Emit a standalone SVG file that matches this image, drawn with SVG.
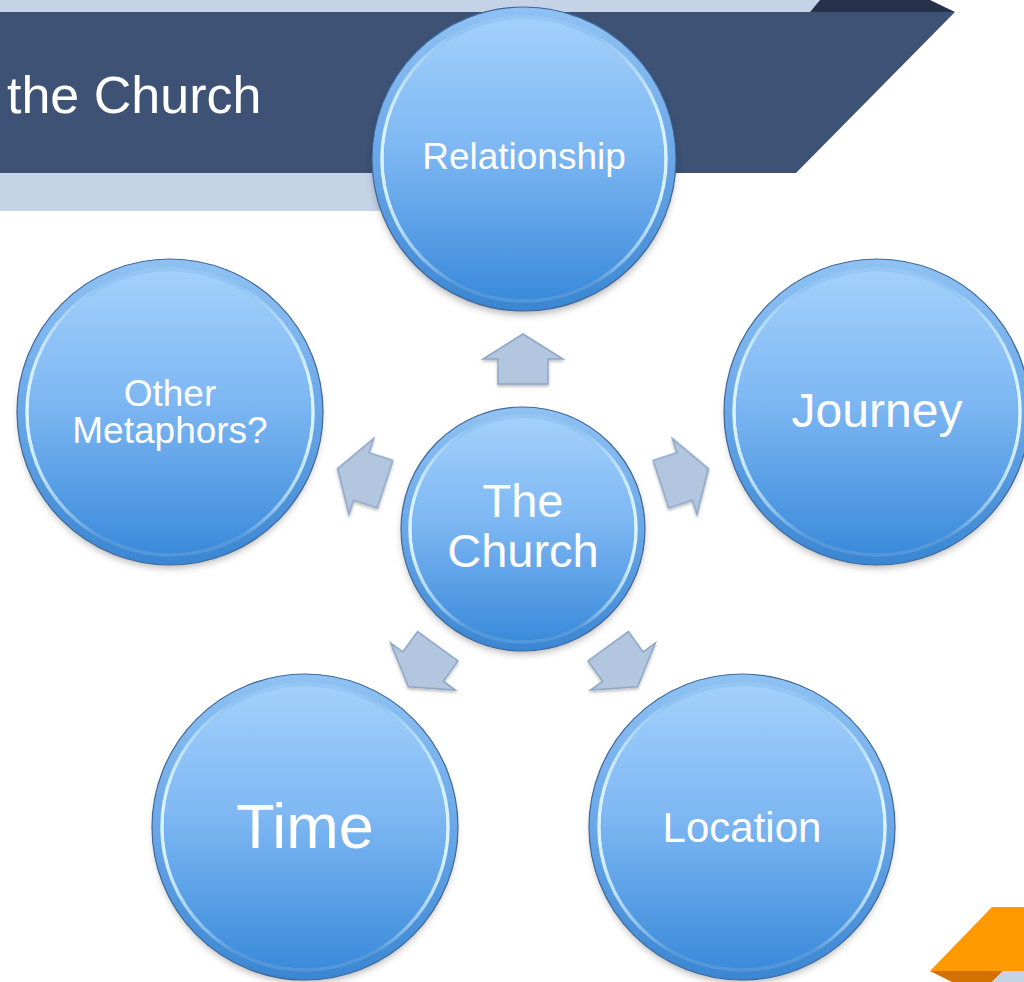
<svg xmlns="http://www.w3.org/2000/svg" xmlns:xlink="http://www.w3.org/1999/xlink" width="1024" height="982" viewBox="0 0 1024 982">
<style>
.lbl{fill:#ffffff;font-family:"Liberation Sans",Arial,sans-serif;text-anchor:middle}
.shadow{fill:#000;opacity:0.35;filter:url(#blur)}
.outer{fill:url(#gOuter);stroke:#40689a;stroke-width:1.2}
.rim{fill:none;stroke:url(#gRim);stroke-width:3.5}
.inner{fill:url(#gInner)}
.arrow{fill:#b3c6e0;stroke:#8ea7c7;stroke-width:1.5;stroke-linejoin:miter}
</style>
<defs>
<filter id="blur" x="-20%" y="-20%" width="140%" height="140%"><feGaussianBlur stdDeviation="4"/></filter>
<filter id="ashadow" x="-30%" y="-30%" width="160%" height="160%"><feDropShadow dx="0" dy="2" stdDeviation="1.5" flood-color="#000" flood-opacity="0.25"/></filter>
<linearGradient id="gOuter" x1="0" y1="0" x2="0" y2="1">
<stop offset="0" stop-color="#8fc2f3"/>
<stop offset="0.5" stop-color="#6aa7e8"/>
<stop offset="1" stop-color="#3a86d2"/>
</linearGradient>
<linearGradient id="gInner" x1="0" y1="0" x2="0" y2="1">
<stop offset="0" stop-color="#a2d0fb"/>
<stop offset="0.45" stop-color="#7fb8f3"/>
<stop offset="1" stop-color="#3b8bdb"/>
</linearGradient>
<linearGradient id="gRim" x1="0" y1="0" x2="1" y2="0">
<stop offset="0" stop-color="#dff8ff" stop-opacity="0.95"/>
<stop offset="0.25" stop-color="#c8ecff" stop-opacity="0.15"/>
<stop offset="0.75" stop-color="#c8ecff" stop-opacity="0.15"/>
<stop offset="1" stop-color="#dff8ff" stop-opacity="0.95"/>
</linearGradient>
<path id="arr" d="M0,-195 L40,-170 L25,-170 L25,-145 L-25,-145 L-25,-170 L-40,-170 Z"/>
</defs>

<g id="header">
<polygon points="0,0 820,0 810,12 0,12" fill="#c5d3e6"/>
<polygon points="820,0 930,0 955,12 810,12" fill="#26324c"/>
<polygon points="0,173 520,173 520,211 0,211" fill="#c5d3e6"/>
<polygon points="0,12 955,12 796,173 0,173" fill="#3d5275"/>
<text x="7" y="113" font-size="52" fill="#ffffff" font-family="'Liberation Sans',Arial,sans-serif">the Church</text>
</g>

<g id="node-relationship">
<circle class="shadow" cx="524" cy="164" r="150"/>
<circle class="outer" cx="524" cy="159" r="152"/>
<circle class="rim" cx="524" cy="159" r="142"/>
<circle class="inner" cx="524" cy="159" r="140"/>
<text class="lbl" x="524" y="169" font-size="37">Relationship</text>
</g>

<g id="node-other">
<circle class="shadow" cx="170" cy="417" r="150"/>
<circle class="outer" cx="170" cy="412" r="153"/>
<circle class="rim" cx="170" cy="412" r="143"/>
<circle class="inner" cx="170" cy="412" r="141"/>
<text class="lbl" x="170" y="406" font-size="37">Other</text>
<text class="lbl" x="170" y="443" font-size="37">Metaphors?</text>
</g>

<g id="node-journey">
<circle class="shadow" cx="877" cy="417" r="150"/>
<circle class="outer" cx="877" cy="412" r="153"/>
<circle class="rim" cx="877" cy="412" r="143"/>
<circle class="inner" cx="877" cy="412" r="141"/>
<text class="lbl" x="877" y="427" font-size="48">Journey</text>
</g>

<g id="node-church">
<circle class="shadow" cx="523" cy="533" r="120"/>
<circle class="outer" cx="523" cy="529" r="122"/>
<circle class="rim" cx="523" cy="529" r="113"/>
<circle class="inner" cx="523" cy="529" r="111"/>
<text class="lbl" x="523" y="517" font-size="47">The</text>
<text class="lbl" x="523" y="567" font-size="47">Church</text>
</g>

<g id="node-time">
<circle class="shadow" cx="305" cy="832" r="150"/>
<circle class="outer" cx="305" cy="827" r="153"/>
<circle class="rim" cx="305" cy="827" r="143"/>
<circle class="inner" cx="305" cy="827" r="141"/>
<text class="lbl" x="305" y="848" font-size="63">Time</text>
</g>

<g id="node-location">
<circle class="shadow" cx="742" cy="832" r="150"/>
<circle class="outer" cx="742" cy="827" r="153"/>
<circle class="rim" cx="742" cy="827" r="143"/>
<circle class="inner" cx="742" cy="827" r="141"/>
<text class="lbl" x="742" y="842" font-size="42">Location</text>
</g>

<g id="connectors" filter="url(#ashadow)">
<use xlink:href="#arr" class="arrow" transform="translate(523,529)"/>
<use xlink:href="#arr" class="arrow" transform="translate(523,529) rotate(72)"/>
<use xlink:href="#arr" class="arrow" transform="translate(523,529) rotate(144)"/>
<use xlink:href="#arr" class="arrow" transform="translate(523,529) rotate(216)"/>
<use xlink:href="#arr" class="arrow" transform="translate(523,529) rotate(288)"/>
</g>

<g id="corner">
<polygon points="992,907 1024,907 1024,971 930,971" fill="#ff9900"/>
<polygon points="930,971 1003,971 992,982 952,982" fill="#d37000"/>
<polygon points="1003,971 1024,971 1024,982 992,982" fill="#c5d3e6"/>
</g>
</svg>
